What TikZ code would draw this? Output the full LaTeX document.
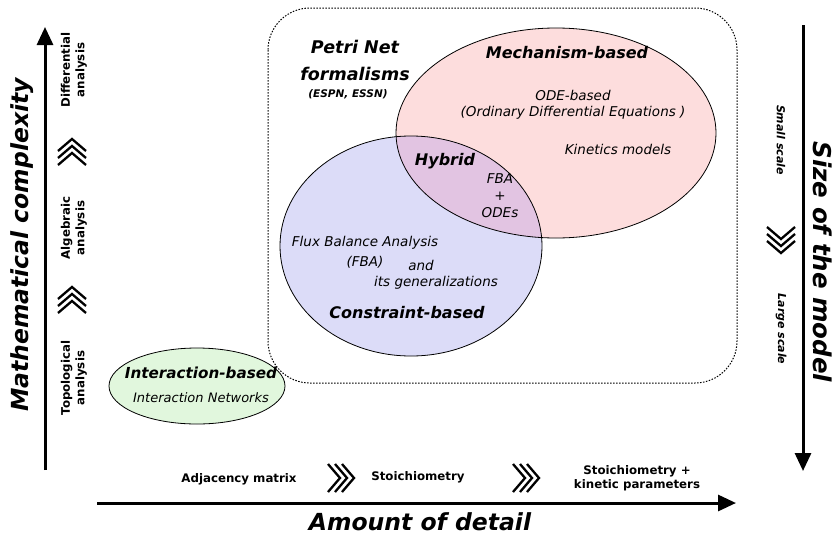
\documentclass[tikz,border=0pt]{standalone}
\usepackage{fontspec}
\setmainfont{DejaVu Sans}
\usetikzlibrary{arrows.meta}

\definecolor{mechfill}{HTML}{FDDDDD}
\definecolor{consfill}{HTML}{DCDCF8}
\definecolor{hybfill}{HTML}{E2C4E2}
\definecolor{interfill}{HTML}{E1F7DD}

\tikzset{
  bigtitle/.style={font=\bfseries\itshape\fontsize{23.5}{28}\selectfont, inner sep=0pt},
  steplabel/.style={font=\bfseries\fontsize{11.8}{14.5}\selectfont, align=center, inner sep=0pt},
  scalelabel/.style={font=\bfseries\itshape\fontsize{11}{14}\selectfont, inner sep=0pt},
  regiontitle/.style={font=\bfseries\itshape\fontsize{16}{20}\selectfont, inner sep=0pt, align=center},
  bodytext/.style={font=\itshape\fontsize{13.5}{17}\selectfont, inner sep=0pt, align=center},
  axisarrow/.style={line width=3pt, -{Triangle[length=18pt,width=16pt]}},
  chevline/.style={line width=2.3pt, miter limit=10},
  chevrons/.pic={\foreach \k in {-7,0,7} \draw[chevline] (\k-6,-14) -- (\k+6,0) -- (\k-6,14);},
  setline/.style={line width=0.8pt},
}

\begin{document}
\begin{tikzpicture}[x=1pt, y=-1pt]
\useasboundingbox (0,0) rectangle (838,536);

% ---- axes ----
\coordinate (vbot) at (45,470);
\coordinate (vtop) at (45,27);
\draw[axisarrow] (vbot) -- (vtop);
\coordinate (hleft) at (97,503);
\coordinate (hright) at (736,503);
\draw[axisarrow] (hleft) -- (hright);
\coordinate (rtop) at (803,25);
\coordinate (rbot) at (803,471);
\draw[axisarrow] (rtop) -- (rbot);

\node[bigtitle, rotate=90] (mathc) at (22,245) {Mathematical complexity};
\node[bigtitle] (amount) at (420,522) {Amount of detail};
\node[bigtitle, font=\bfseries\itshape\fontsize{24.5}{28}\selectfont, rotate=-90] (sizem) at (823,262) {Size of the model};

% ---- complexity steps ----
\node[steplabel, rotate=90] (topo) at (74,378) {Topological\\analysis};
\node[steplabel, rotate=90] (alge) at (74,228) {Algebraic\\analysis};
\node[steplabel, rotate=90] (diff) at (74,70) {Differential\\analysis};
\pic[rotate=90] at (72,300) {chevrons};
\pic[rotate=90] at (72,152) {chevrons};

% ---- detail steps ----
\node[steplabel] (adj) at (239,479) {Adjacency matrix};
\node[steplabel] (stoi) at (418,477) {Stoichiometry};
\node[steplabel] (stkin) at (637,478) {Stoichiometry +\\kinetic parameters};
\pic at (341,478) {chevrons};
\pic at (526,478) {chevrons};

% ---- size steps ----
\node[scalelabel, rotate=-90] (small) at (781,140) {Small scale};
\node[scalelabel, rotate=-90] (large) at (781,329) {Large scale};
\pic[rotate=-90] at (781,240) {chevrons};

% ---- Petri net frame ----
\draw[line width=1pt, dash pattern=on 1.5pt off 1.5pt, rounded corners=42pt] (268,8) rectangle (737,383);
\node[regiontitle, font=\bfseries\itshape\fontsize{17.5}{27}\selectfont] (petri) at (355,60) {Petri Net\\formalisms};
\node[regiontitle, font=\bfseries\itshape\fontsize{10.5}{12}\selectfont] (espn) at (348,94) {(ESPN, ESSN)};

% ---- model classes ----
\fill[mechfill] (556,133) ellipse [x radius=160pt, y radius=105pt];
\fill[consfill] (411,246) ellipse [x radius=131pt, y radius=110pt];
\begin{scope}
  \clip (556,133) ellipse [x radius=160pt, y radius=105pt];
  \fill[hybfill] (411,246) ellipse [x radius=131pt, y radius=110pt];
\end{scope}
\draw[setline] (556,133) ellipse [x radius=160pt, y radius=105pt];
\draw[setline] (411,246) ellipse [x radius=131pt, y radius=110pt];
\filldraw[setline, fill=interfill] (197,386) ellipse [x radius=88pt, y radius=38pt];

\node[regiontitle] (mech) at (567,53) {Mechanism-based};
\node[bodytext] (ode) at (573,95) {ODE-based};
\node[bodytext] (odefull) at (573,113) {(Ordinary Differential Equations )};
\node[bodytext] (kin) at (618,149) {Kinetics models};

\node[regiontitle] (hyb) at (445,161) {Hybrid};
\node[bodytext] (fba) at (500,179) {FBA};
\node[bodytext] (plus) at (500,196) {+};
\node[bodytext] (odes) at (500,213) {ODEs};

\node[bodytext] (flux) at (365,243) {Flux Balance Analysis};
\node[bodytext] (fbaab) at (365,262) {(FBA)};
\node[bodytext] (and) at (421,265) {and};
\node[bodytext] (gen) at (436,283) {its generalizations};
\node[regiontitle] (cons) at (407,313) {Constraint-based};

\node[regiontitle, font=\bfseries\itshape\fontsize{15.2}{19}\selectfont] (inter) at (201,373) {Interaction-based};
\node[bodytext, font=\itshape\fontsize{13}{16}\selectfont] (internet) at (201,398) {Interaction Networks};
\end{tikzpicture}
\end{document}
